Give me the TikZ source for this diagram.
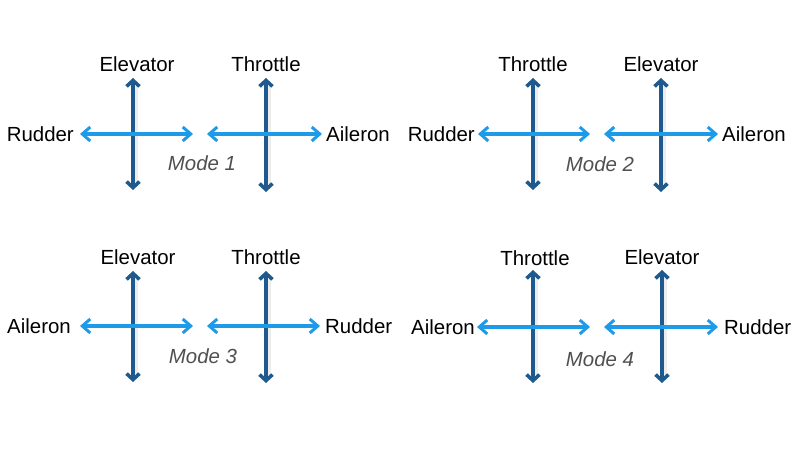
\documentclass[tikz,border=0pt]{standalone}
\usepackage{fontspec}
\setmainfont{Liberation Sans}
\usetikzlibrary{arrows.meta}
\definecolor{darkax}{HTML}{1F5A8E}
\definecolor{lightax}{HTML}{1E9BE8}
\definecolor{modegray}{HTML}{505050}
\tikzset{
  lbl/.style={inner sep=0pt, font=\fontsize{20.5}{23}\selectfont, text=black},
  modelbl/.style={inner sep=0pt, font=\fontsize{20.5}{23}\selectfont\itshape, text=modegray},
  vax/.style={draw=darkax, line width=4.4pt, {Straight Barb[length=6pt,width=13pt,line width=3.6pt]}-{Straight Barb[length=6pt,width=13pt,line width=3.6pt]}},
  vshadow/.style={draw=black!7, line width=4pt},
  hax/.style={draw=lightax, line width=3.3pt, {Straight Barb[length=8pt,width=14pt,line width=3pt]}-{Straight Barb[length=8pt,width=14pt,line width=3pt]}}
}
\begin{document}
\begin{tikzpicture}[x=1bp,y=-1bp]
\useasboundingbox (0,0) rectangle (800,450);
\fill[white] (0,0) rectangle (800,450);
% ---------- panel 1 ----------
\node[lbl] (e1) at (137,64) {Elevator};
\node[lbl] (t1) at (266,64) {Throttle};
\node[lbl,anchor=east] (r1) at (74,134) {Rudder};
\node[lbl,anchor=west] (a1) at (326,134) {Aileron};
\node[modelbl] (m1) at (202,163) {Mode 1};
\coordinate (v1at) at (133,78); \coordinate (v1ab) at (133,190);
\coordinate (v1bt) at (266,78); \coordinate (v1bb) at (266,192);
\coordinate (h1al) at (80,134); \coordinate (h1ar) at (193,134);
\coordinate (h1bl) at (207,134); \coordinate (h1br) at (322,134);
\draw[vshadow] ([xshift=3bp,yshift=-8bp]v1at) -- ([xshift=3bp,yshift=8bp]v1ab);
\draw[vshadow] ([xshift=3bp,yshift=-8bp]v1bt) -- ([xshift=3bp,yshift=8bp]v1bb);
\draw[vax] (v1at) -- (v1ab);
\draw[vax] (v1bt) -- (v1bb);
\draw[hax] (h1al) -- (h1ar);
\draw[hax] (h1bl) -- (h1br);
% ---------- panel 2 ----------
\node[lbl] (t2) at (533,64) {Throttle};
\node[lbl] (e2) at (661,64) {Elevator};
\node[lbl,anchor=east] (r2) at (475,134) {Rudder};
\node[lbl,anchor=west] (a2) at (722,134) {Aileron};
\node[modelbl] (m2) at (600,164) {Mode 2};
\coordinate (v2at) at (533,78); \coordinate (v2ab) at (533,190);
\coordinate (v2bt) at (661,78); \coordinate (v2bb) at (661,192);
\coordinate (h2al) at (478,134); \coordinate (h2ar) at (590,134);
\coordinate (h2bl) at (604,134); \coordinate (h2br) at (718,134);
\draw[vshadow] ([xshift=3bp,yshift=-8bp]v2at) -- ([xshift=3bp,yshift=8bp]v2ab);
\draw[vshadow] ([xshift=3bp,yshift=-8bp]v2bt) -- ([xshift=3bp,yshift=8bp]v2bb);
\draw[vax] (v2at) -- (v2ab);
\draw[vax] (v2bt) -- (v2bb);
\draw[hax] (h2al) -- (h2ar);
\draw[hax] (h2bl) -- (h2br);
% ---------- panel 3 ----------
\node[lbl] (e3) at (138,257) {Elevator};
\node[lbl] (t3) at (266,257) {Throttle};
\node[lbl,anchor=east] (a3) at (71,326) {Aileron};
\node[lbl,anchor=west] (r3) at (325,326) {Rudder};
\node[modelbl] (m3) at (203,356) {Mode 3};
\coordinate (v3at) at (133,271); \coordinate (v3ab) at (133,382);
\coordinate (v3bt) at (266,271); \coordinate (v3bb) at (266,383);
\coordinate (h3al) at (80,326); \coordinate (h3ar) at (193,326);
\coordinate (h3bl) at (207,326); \coordinate (h3br) at (320,326);
\draw[vshadow] ([xshift=3bp,yshift=-8bp]v3at) -- ([xshift=3bp,yshift=8bp]v3ab);
\draw[vshadow] ([xshift=3bp,yshift=-8bp]v3bt) -- ([xshift=3bp,yshift=8bp]v3bb);
\draw[vax] (v3at) -- (v3ab);
\draw[vax] (v3bt) -- (v3bb);
\draw[hax] (h3al) -- (h3ar);
\draw[hax] (h3bl) -- (h3br);
% ---------- panel 4 ----------
\node[lbl] (t4) at (535,258) {Throttle};
\node[lbl] (e4) at (662,257) {Elevator};
\node[lbl,anchor=east] (a4) at (475,327) {Aileron};
\node[lbl,anchor=west] (r4) at (724,327) {Rudder};
\node[modelbl] (m4) at (600,359) {Mode 4};
\coordinate (v4at) at (533,270); \coordinate (v4ab) at (533,383);
\coordinate (v4bt) at (662,270); \coordinate (v4bb) at (662,383);
\coordinate (h4al) at (477,327); \coordinate (h4ar) at (590,327);
\coordinate (h4bl) at (604,327); \coordinate (h4br) at (718,327);
\draw[vshadow] ([xshift=3bp,yshift=-8bp]v4at) -- ([xshift=3bp,yshift=8bp]v4ab);
\draw[vshadow] ([xshift=3bp,yshift=-8bp]v4bt) -- ([xshift=3bp,yshift=8bp]v4bb);
\draw[vax] (v4at) -- (v4ab);
\draw[vax] (v4bt) -- (v4bb);
\draw[hax] (h4al) -- (h4ar);
\draw[hax] (h4bl) -- (h4br);
\end{tikzpicture}
\end{document}
